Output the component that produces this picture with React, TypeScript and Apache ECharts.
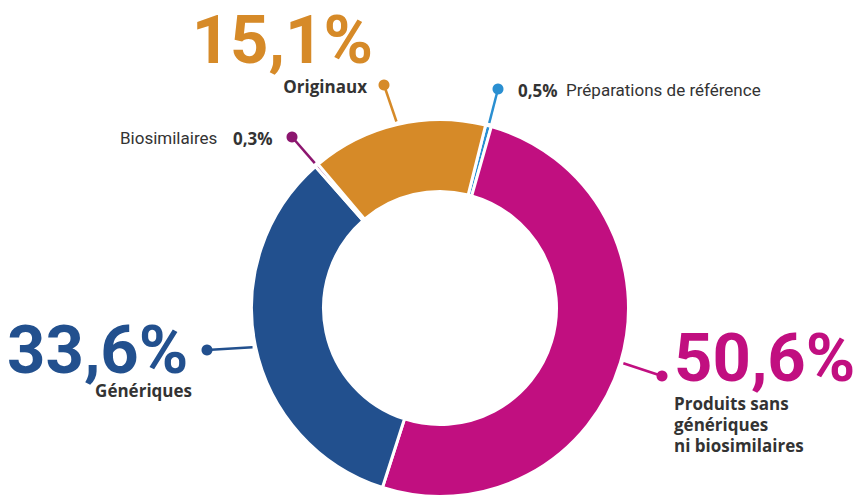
import React, { useEffect, useRef } from "react";
import * as echarts from "echarts";

// ---- Data ----
const categories = [
  "Préparations de référence",
  "Produits sans génériques ni biosimilaires",
  "Génériques",
  "Biosimilaires",
  "Originaux",
];
const values = [0.5, 50.6, 33.6, 0.3, 15.1];
const valueLabels = ["0,5%", "50,6%", "33,6%", "0,3%", "15,1%"];
const colors = ["#2A8FD1", "#C10F80", "#22508E", "#8C166F", "#D68A28"];

// ---- Layout (annotation positions) ----
const CX = 440;
const CY = 308;
const R_IN = 116.5;
const R_OUT = 188.5;
const START = 76;
const dots: [number, number][] = [
  [498, 89],
  [662, 376],
  [207, 350],
  [292, 137],
  [384, 85],
];

const DARK = "#333333";

function midPoint(i: number, r: number): [number, number] {
  const total = values.reduce((a, b) => a + b, 0);
  let cum = 0;
  for (let k = 0; k < i; k++) cum += values[k];
  const frac = (cum + values[i] / 2) / total;
  const theta = ((START - frac * 360) * Math.PI) / 180;
  return [CX + r * Math.cos(theta), CY - r * Math.sin(theta)];
}

function txt(
  text: string,
  x: number,
  y: number,
  align: string,
  fill: string,
  size: number,
  weight: string | number,
  family: string,
  lineHeight?: number
) {
  return {
    type: "text",
    silent: true,
    style: {
      text,
      x,
      y,
      fill,
      fontSize: size,
      fontWeight: weight,
      fontFamily: family,
      lineHeight: lineHeight ?? Math.round(size * 1.15),
      textAlign: align,
      textVerticalAlign: "middle",
      verticalAlign: "middle",
    },
  };
}

export default function App() {
  const ref = useRef<HTMLDivElement>(null);
  useEffect(() => {
    document.body.style.margin = "0";
    if (!ref.current) return;
    const chart = echarts.init(ref.current, null, { renderer: "svg" });

    const lines: any[] = [];
    const circles: any[] = [];
    values.forEach((_, i) => {
      const [sx, sy] = midPoint(i, R_OUT + 3);
      const [dx, dy] = dots[i];
      lines.push({
        type: "line",
        silent: true,
        shape: { x1: sx, y1: sy, x2: dx, y2: dy },
        style: { stroke: colors[i], lineWidth: 2.5 },
      });
      circles.push({
        type: "circle",
        silent: true,
        shape: { cx: dx, cy: dy, r: 5.5 },
        style: { fill: colors[i] },
      });
    });

    const BIG = "Roboto";
    const SB = '"Open Sans"';
    const REG = "Roboto";
    const BS = 67;
    const BLH = 50;
    const texts = [
      // Originaux
      txt(valueLabels[4], 373, 40, "right", colors[4], BS, 700, BIG, BLH),
      txt("Originaux", 367, 86, "right", DARK, 17, 700, SB),
      // Préparations
      txt(valueLabels[0], 518, 90, "left", DARK, 17, 700, SB),
      txt("Préparations de référence", 566, 90, "left", DARK, 17, 400, REG),
      // Biosimilaires
      txt("Biosimilaires", 120, 138, "left", DARK, 17, 400, REG),
      txt(valueLabels[3], 233, 138, "left", DARK, 17, 700, SB),
      // Génériques
      txt(valueLabels[2], 7, 350, "left", colors[2], BS, 700, BIG, BLH),
      txt("Génériques", 192, 390, "right", DARK, 17, 700, SB),
      // Produits
      txt(valueLabels[1], 674, 358, "left", colors[1], BS, 700, BIG, BLH),
      txt("Produits sans", 674, 403, "left", DARK, 17, 700, SB),
      txt("génériques", 674, 424, "left", DARK, 17, 700, SB),
      txt("ni biosimilaires", 674, 445, "left", DARK, 17, 700, SB),
    ];

    chart.setOption({
      animation: false,
      backgroundColor: "#ffffff",
      series: [
        {
          type: "pie",
          center: [CX, CY],
          radius: [R_IN, R_OUT],
          startAngle: START,
          clockwise: true,
          silent: true,
          label: { show: false },
          labelLine: { show: false },
          itemStyle: { borderColor: "#ffffff", borderWidth: 3 },
          emphasis: { disabled: true },
          data: categories.map((name, i) => ({
            name,
            value: values[i],
            itemStyle: { color: colors[i] },
          })),
        },
      ],
      graphic: { elements: [...lines, ...circles, ...texts] },
    });
    return () => chart.dispose();
  }, []);
  return <div ref={ref} style={{ width: 862, height: 496 }} />;
}
